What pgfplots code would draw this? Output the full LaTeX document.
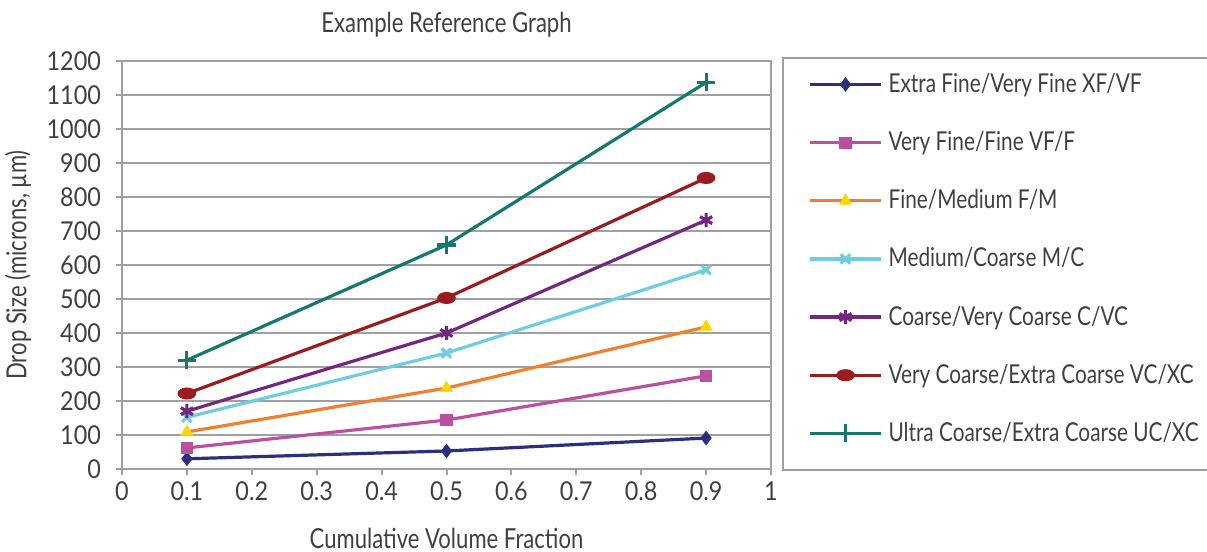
\documentclass[border=0pt]{standalone}
\usepackage{pgfplots}
\pgfplotsset{compat=1.18}
\usepackage{fontspec}
\setmainfont{Lato}[FakeStretch=0.8]
\newfontfamily\tickfont{Lato}[FakeStretch=0.9]
\definecolor{txt}{RGB}{64,64,64}
\definecolor{gridc}{RGB}{160,160,164}
\definecolor{c1}{RGB}{43,47,126}
\definecolor{c2}{RGB}{186,80,160}
\definecolor{c3}{RGB}{240,128,48}
\definecolor{c3m}{RGB}{255,215,0}
\definecolor{c4}{RGB}{110,205,224}
\definecolor{c5}{RGB}{114,40,127}
\definecolor{c6}{RGB}{155,27,30}
\definecolor{c7}{RGB}{20,120,110}
\begin{document}
\begin{tikzpicture}[font=\fontsize{13}{15}\selectfont]
\useasboundingbox (-61pt,-41.5pt) rectangle (542.5pt,234.5pt);
\begin{axis}[
  scale only axis, width=324.5pt, height=204pt,
  xmin=0, xmax=1, ymin=0, ymax=1200,
  xtick={0,0.1,0.2,0.3,0.4,0.5,0.6,0.7,0.8,0.9,1},
  xticklabels={0,0.1,0.2,0.3,0.4,0.5,0.6,0.7,0.8,0.9,1},
  ytick={0,100,200,300,400,500,600,700,800,900,1000,1100,1200},
  ymajorgrids, grid style={gridc, line width=1pt},
  axis line style={gridc, line width=1pt},
  tick style={gridc, line width=1pt},
  tick align=outside, major tick length=3pt,
  xtick pos=bottom, ytick pos=left,
  /pgf/number format/assume math mode=true,
  /pgf/number format/1000 sep={},
  tick label style={text=txt, font=\tickfont\fontsize{13}{15}\selectfont},
  yticklabel style={xshift=-4pt},
  title={Example Reference Graph},
  title style={at={(axis description cs:0.5,1.06)}, anchor=center, text=txt, font=\fontsize{13.8}{16}\selectfont},
  xlabel={Cumulative Volume Fraction},
  xlabel style={at={(axis description cs:0.5,-0.169)}, anchor=center, text=txt, font=\fontsize{13.8}{16}\selectfont},
  ylabel={Drop Size (microns, µm)},
  ylabel style={at={(axis description cs:-0.160,0.5)}, anchor=center, text=txt, font=\fontsize{13.8}{16}\selectfont},
  legend style={name=lgd, at={(axis description cs:1,1)}, anchor=north west, xshift=6pt, yshift=1.5pt,
    draw=none, fill=white, inner xsep=12.5pt, inner ysep=4.5pt, row sep=12pt,
    nodes={inner sep=3pt, text=txt}, font=\fontsize{13}{15}\selectfont},
  legend cell align=left,
  legend image code/.code={\draw[line width=1.6pt, mark repeat=2,mark phase=2] plot coordinates {(0pt,0pt) (17.75pt,0pt) (35.5pt,0pt)};},
  every axis plot/.append style={line width=1.6pt},
]
\addplot[c1, mark=diamond*, mark size=3.3pt, mark options={fill=c1, line width=0.5pt}] coordinates {(0.1,30) (0.5,53) (0.9,91)};
\addlegendentry{\makebox[144pt][l]{Extra Fine/Very Fine XF/VF}}
\addplot[c2, mark=square*, mark size=2.8pt, mark options={fill=c2, line width=0.5pt}] coordinates {(0.1,62) (0.5,144) (0.9,274)};
\addlegendentry{Very Fine/Fine VF/F}
\addplot[c3, mark=triangle*, mark size=3.3pt, mark options={fill=c3m, draw=c3m, line width=0.5pt}] coordinates {(0.1,109) (0.5,238) (0.9,418)};
\addlegendentry{Fine/Medium F/M}
\addplot[c4, mark=x, mark size=3.3pt, mark options={line width=1.6pt}] coordinates {(0.1,152) (0.5,341) (0.9,586)};
\addlegendentry{Medium/Coarse M/C}
\addplot[c5, mark=asterisk, mark size=3.5pt, mark options={line width=1.6pt}] coordinates {(0.1,170) (0.5,400) (0.9,732)};
\addlegendentry{Coarse/Very Coarse C/VC}
\addplot[c6, mark=*, mark size=2.75pt, mark options={fill=c6, line width=0.5pt, xscale=1.6}] coordinates {(0.1,222) (0.5,503) (0.9,856)};
\addlegendentry{Very Coarse/Extra Coarse VC/XC}
\addplot[c7, mark=+, mark size=4.5pt, mark options={line width=1.6pt}] coordinates {(0.1,320) (0.5,659) (0.9,1137)};
\addlegendentry{Ultra Coarse/Extra Coarse UC/XC}
\end{axis}
\draw[gridc, line width=1pt] (lgd.north west) rectangle ([yshift=-5pt]lgd.south east);
\end{tikzpicture}
\end{document}
